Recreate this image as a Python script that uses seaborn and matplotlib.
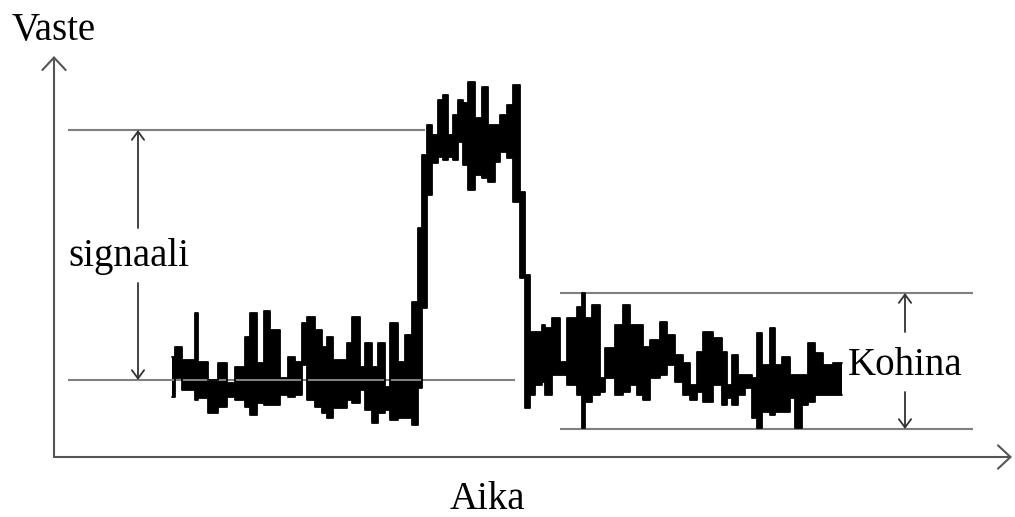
import numpy as np
import pandas as pd
import matplotlib
matplotlib.use("Agg")
import matplotlib.pyplot as plt
import seaborn as sns

# ---- data (time units, response units) ----
seg_time = [117, 120, 127, 140, 143, 153, 163, 172, 180, 190, 195, 202, 209, 215,
            225, 233, 240, 247, 252, 260, 267, 272, 278, 292, 297, 305, 310, 317,
            323, 330, 335, 343, 350, 357, 363, 367, 372, 377, 383, 388, 393, 398,
            403, 408, 413, 420, 427, 433, 440, 445, 452, 458, 465, 470, 475, 480,
            487, 490, 497, 505, 512, 522, 527, 530, 537, 545, 550, 560, 568, 575,
            582, 588, 595, 605, 612, 620, 628, 635, 642, 648, 658, 667, 672, 677,
            683, 690, 697, 702, 707, 715, 720, 727, 735, 740, 747, 753, 760, 768,
            778, 787]
seg_high = [100, 110, 97, 144, 95, 77, 94, 74, 90, 120, 144, 94, 146, 127,
            79, 100, 95, 134, 140, 127, 110, 120, 97, 114, 140, 90, 114, 90,
            114, 70, 134, 95, 122, 155, 229, 302, 332, 322, 357, 362, 322, 342,
            357, 354, 375, 339, 370, 332, 332, 342, 352, 372, 265, 182, 125, 125,
            132, 129, 139, 95, 139, 150, 164, 139, 152, 79, 109, 132, 152, 132,
            132, 110, 117, 135, 122, 102, 94, 72, 105, 125, 119, 105, 72, 102,
            82, 82, 79, 124, 92, 129, 92, 100, 82, 82, 82, 114, 104, 92,
            94]
seg_low = [60, 79, 67, 57, 59, 44, 50, 60, 57, 50, 42, 54, 52, 52,
           62, 60, 62, 92, 57, 50, 44, 39, 49, 57, 54, 67, 47, 34,
           44, 47, 37, 39, 39, 32, 69, 149, 262, 294, 300, 297, 300, 297,
           315, 292, 267, 282, 279, 275, 295, 305, 299, 255, 179, 49, 62, 72,
           75, 62, 82, 82, 72, 62, 29, 55, 62, 65, 79, 62, 65, 72,
           62, 57, 79, 82, 92, 75, 62, 57, 65, 55, 72, 52, 59, 52,
           62, 69, 39, 29, 45, 42, 45, 45, 59, 29, 52, 55, 62, 62,
           62]

signal_top = 327
signal_base = 77
noise_top = 164
noise_bottom = 28

labels = {"y": "Vaste", "x": "Aika", "signal": "signaali", "noise": "Kohina"}

# ---- style ----
sns.set_theme(style="white")
plt.rcParams["font.family"] = ["Liberation Serif", "DejaVu Serif"]

fig = plt.figure(figsize=(10.15, 5.17), dpi=100)
ax = fig.add_axes([0, 0, 1, 1])
ax.set_xlim(-55, 960)
ax.set_ylim(-60, 457)
ax.axis("off")

ref_col = "#808080"
axis_col = "#555555"

# reference lines
ref = pd.DataFrame({
    "t": [13, 370, np.nan, 13, 460, np.nan, 505, 918, np.nan, 505, 918],
    "r": [signal_top, signal_top, np.nan, signal_base, signal_base, np.nan,
          noise_top, noise_top, np.nan, noise_bottom, noise_bottom],
})
ax.plot(ref["t"], ref["r"], color=ref_col, lw=1.5, solid_capstyle="butt")

# trace: filled envelope between low and high values
t_arr = np.array(seg_time, dtype=float)
hi = np.array(seg_high + [seg_high[-1]], dtype=float)
lo = np.array(seg_low + [seg_low[-1]], dtype=float)
ax.fill_between(t_arr, lo, hi, step="post", color="black", lw=0)
env = pd.DataFrame({"t": np.concatenate([t_arr, t_arr]),
                    "r": np.concatenate([hi, lo]),
                    "side": ["hi"] * len(t_arr) + ["lo"] * len(t_arr)})
sns.lineplot(data=env, x="t", y="r", units="side", estimator=None,
             drawstyle="steps-post", color="black", lw=1.3, ax=ax,
             legend=False)
ax.set_xlim(-55, 960)
ax.set_ylim(-60, 457)

# axes arrows
big = dict(arrowstyle="->,head_length=0.45,head_width=0.42", color=axis_col,
           lw=1.5, shrinkA=0, shrinkB=0, mutation_scale=20)
ax.annotate("", xy=(-1, 401), xytext=(-1, 0), arrowprops=big)
ax.annotate("", xy=(957, 0), xytext=(-1, 0), arrowprops=big)

small = dict(arrowstyle="->,head_length=0.3,head_width=0.22", color="#333333",
             lw=1.3, shrinkA=0, shrinkB=0, mutation_scale=20)
ax.annotate("", xy=(83, signal_top), xytext=(83, 229), arrowprops=small)
ax.annotate("", xy=(83, signal_base), xytext=(83, 174), arrowprops=small)
ax.annotate("", xy=(850, noise_top), xytext=(850, 125), arrowprops=small)
ax.annotate("", xy=(850, noise_bottom), xytext=(850, 65), arrowprops=small)

# texts
fs = 28
ax.text(-43, 417, labels["y"], fontsize=fs, ha="left", va="baseline", color="black")
ax.text(432, -52, labels["x"], fontsize=fs, ha="center", va="baseline", color="black")
ax.text(13, 191, labels["signal"], fontsize=fs, ha="left", va="baseline", color="black")
ax.text(793, 82, labels["noise"], fontsize=fs, ha="left", va="baseline", color="black")

fig.savefig("out.png", dpi=100, facecolor="white")
